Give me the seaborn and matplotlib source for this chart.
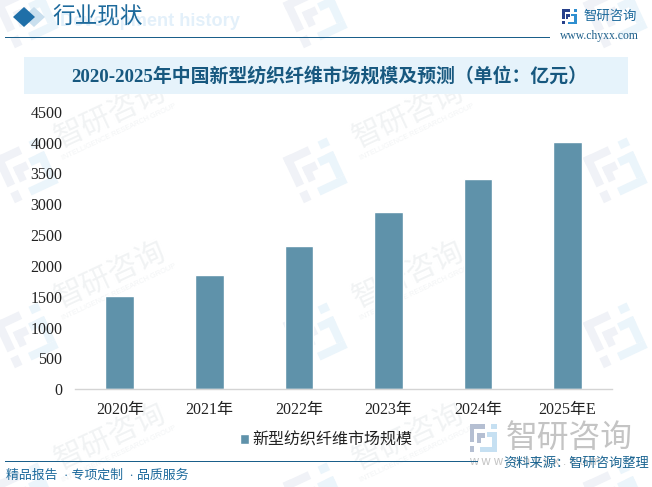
import math
import matplotlib
matplotlib.use("Agg")
import matplotlib.pyplot as plt
from matplotlib.patches import Rectangle, Polygon
import pandas as pd
import seaborn as sns

years = ["2020年", "2021年", "2022年", "2023年", "2024年", "2025年E"]
market_size = [1520, 1860, 2315, 2880, 3415, 4015]
y_ticks = [0, 500, 1000, 1500, 2000, 2500, 3000, 3500, 4000, 4500]
series_name = "新型纺织纤维市场规模"

W, H = 652, 487
sns.set_theme(style="white")
CJK = ["Liberation Serif", "Noto Sans CJK SC", "DejaVu Sans"]
plt.rcParams["font.family"] = CJK

df = pd.DataFrame({"year": years, "size": market_size})

fig = plt.figure(figsize=(W / 100, H / 100), dpi=100, facecolor="white")


def fx(x):
    return x / W


def fy(y):
    return 1 - y / H


def rect(x0, y0, x1, y1, color, alpha=1, z=1):
    fig.add_artist(Rectangle((fx(x0), fy(y1)), (x1 - x0) / W, (y1 - y0) / H,
                             transform=fig.transFigure, color=color, lw=0,
                             alpha=alpha, zorder=z))


def diamond(cx, cy, rx, ry, color):
    pts = [(fx(cx - rx), fy(cy)), (fx(cx), fy(cy - ry)), (fx(cx + rx), fy(cy)), (fx(cx), fy(cy + ry))]
    fig.add_artist(Polygon(pts, closed=True, transform=fig.transFigure, color=color, lw=0, zorder=2))


# logo blocks on a 6x6 grid: (x0, y0, x1, y1, left part?)
LOGO = [(0, 0, 3.3, 1, True), (0, 0, 1, 3.9, True), (0, 4.7, 1, 6, True), (1.6, 2, 3.3, 3, True),
        (1.6, 2, 2.5, 4, True), (4.6, 0, 5.8, 1, False), (3.7, 1.8, 5.8, 2.8, False),
        (4.8, 1.8, 5.8, 5, False), (2.2, 5, 5.8, 6, False)]


def logo(x, y, s, dark, light, angle=0, z=2):
    # x, y is the centre in pixels, s the height in pixels
    u = s / 6
    a = math.radians(angle)
    for x0, y0, x1, y1, left in LOGO:
        pts = []
        for px, py in [(x0, y0), (x1, y0), (x1, y1), (x0, y1)]:
            dx = (px - 3) * u
            dy = (py - 3) * u
            pts.append((fx(x + dx * math.cos(a) + dy * math.sin(a)),
                        fy(y - dx * math.sin(a) + dy * math.cos(a))))
        fig.add_artist(Polygon(pts, closed=True, transform=fig.transFigure,
                               color=dark if left else light, lw=0, zorder=z))


# watermark grid behind everything
for wx in [110, 408]:
    for wy in [115, 275, 437]:
        fig.text(fx(wx), fy(wy), "智研咨询", fontsize=21.5, color="#f1f3f4", rotation=25,
                 ha="center", va="center", family="Noto Sans CJK SC", zorder=0)
        fig.text(fx(wx + 9), fy(wy + 17), "INTELLIGENCE RESEARCH GROUP", fontsize=5.3, color="#f2f4f5",
                 rotation=25, ha="center", va="center", family="Liberation Sans", zorder=0)
for lx in [27, 316, 616]:
    for ly in [15, 170, 335, 495]:
        logo(lx, ly, 50, "#f0f2f7", "#ebf5fb", angle=25, z=0)

# header
diamond(34, 17, 11, 10, "#c9dfee")
diamond(24, 17, 11, 10, "#1f6fa8")
fig.text(fx(52), fy(16), "行业现状", fontsize=16.3, color="#1d6a9c", ha="left", va="center",
         family="Noto Sans CJK SC", zorder=3)
fig.text(fx(60), fy(21), "Development history", fontsize=13.1, color="#e3f0fa", weight="bold",
         ha="left", va="center", family="Liberation Sans", zorder=2)
rect(5, 37, 550, 38, "#1a5f8a", z=2)
logo(569.5, 16.5, 15, "#27408b", "#2f8fd0")
fig.text(fx(584), fy(16), "智研咨询", fontsize=9.6, color="#1d6a9c", ha="left", va="center",
         family="Noto Sans CJK SC", zorder=3)
fig.text(fx(560), fy(36), "www.chyxx.com", fontsize=8.4, color="#1d5f8a", ha="left", va="center", zorder=3)

# title band
rect(24, 57, 628, 94, "#e6f3fb", z=1)
fig.text(fx(329), fy(76), "2020-2025年中国新型纺织纤维市场规模及预测（单位：亿元）", fontsize=13.6,
         color="#17587f", weight="bold", ha="center", va="center", zorder=3)

# chart
ax = fig.add_axes([fx(75), fy(389.3), (612.4 - 75) / W, (389.3 - 111.7) / H], zorder=2)
ax.patch.set_alpha(0)
sns.barplot(data=df, x="year", y="size", color="#5f92aa", saturation=1, width=0.32, ax=ax,
            label=series_name)
ax.set_ylim(0, 4500)
ax.set_xlim(-0.5, 5.5)
ax.set_yticks(y_ticks)
ax.set_xlabel("")
ax.set_ylabel("")
for s in ["top", "right", "left"]:
    ax.spines[s].set_visible(False)
ax.spines["bottom"].set_color("#d4d4d4")
ax.spines["bottom"].set_linewidth(1)
ax.tick_params(axis="both", length=0, labelsize=11.5, colors="#222222")
ax.tick_params(axis="x", pad=9)
ax.tick_params(axis="y", pad=9)
ax.legend(loc="center", bbox_to_anchor=(fx(326), fy(440)), bbox_transform=fig.transFigure,
          frameon=False, handlelength=0.6, handleheight=0.6, handletextpad=0.2,
          labelcolor="#222222", prop={"family": "Noto Sans CJK SC", "size": 11.5})

# bottom-right watermark logo
logo(483.5, 438, 28, "#b5bfd2", "#c6e0f2", z=1)
fig.text(fx(506), fy(438), "智研咨询", fontsize=22.9, color="#c4c4c4", ha="left", va="center",
         family="Noto Sans CJK SC", zorder=1)
fig.text(fx(469), fy(462), "w w w . c h y x x . c o m", fontsize=9, color="#c4c4c4", ha="left", va="center",
         family="Liberation Sans", zorder=1)

# footer
rect(4.5, 461, 478, 462, "#1a5f8a", z=2)
fig.text(fx(6), fy(476), "精品报告  · 专项定制  · 品质服务", fontsize=9.3, color="#1d6a9c", ha="left", va="center",
         family=["Liberation Serif", "Noto Sans CJK SC"], zorder=3)
fig.text(fx(503), fy(463), "资料来源：智研咨询整理", fontsize=9.5, color="#1a6491", ha="left", va="center",
         family="Noto Sans CJK SC", zorder=3)

fig.savefig("out.png", dpi=100)
